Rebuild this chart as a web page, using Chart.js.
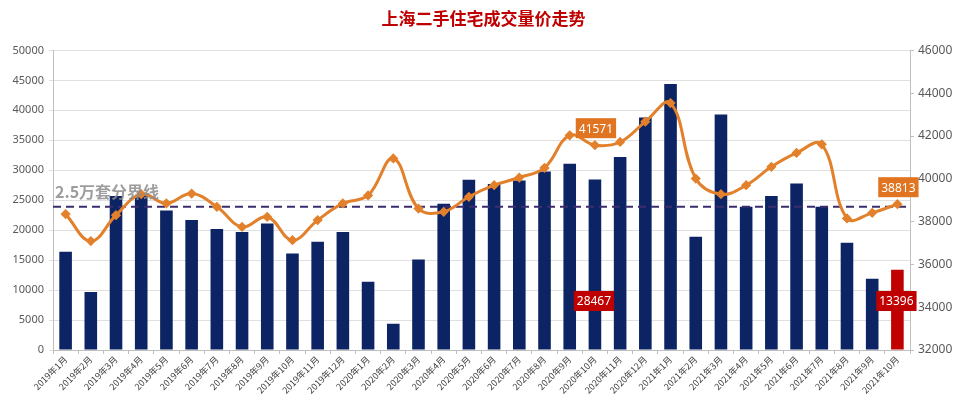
<!DOCTYPE html>
<html>
<head>
<meta charset="utf-8">
<script src="https://cdn.jsdelivr.net/npm/chart.js@4/dist/chart.umd.min.js"></script>
<style>
  html, body { margin: 0; padding: 0; background: #fff; }
  .chart { width: 967px; height: 407px; }
</style>
</head>
<body>
<div class="chart"><canvas id="chart"></canvas></div>
<script>
// 月份
const months = [
  '2019年1月', '2019年2月', '2019年3月', '2019年4月', '2019年5月', '2019年6月',
  '2019年7月', '2019年8月', '2019年9月', '2019年10月', '2019年11月', '2019年12月',
  '2020年1月', '2020年2月', '2020年3月', '2020年4月', '2020年5月', '2020年6月',
  '2020年7月', '2020年8月', '2020年9月', '2020年10月', '2020年11月', '2020年12月',
  '2021年1月', '2021年2月', '2021年3月', '2021年4月', '2021年5月', '2021年6月',
  '2021年7月', '2021年8月', '2021年9月', '2021年10月'
]

// 成交量 (套)
const volumes = [
  16400, 9700, 25700, 25900, 23300, 21700, 20200, 19700, 21100, 16100, 18050, 19700,
  11400, 4400, 15100, 24400, 28400, 27700, 28300, 29800, 31100, 28467, 32200, 38800,
  44400, 18900, 39300, 23900, 25700, 27800, 23900, 17900, 11900, 13396
]

// 成交均价 (元/平)
const prices = [
  38350, 37090, 38300, 39280, 38850, 39310, 38690, 37750, 38220, 37130, 38070, 38850,
  39220, 40950, 38610, 38460, 39160, 39700, 40060, 40510, 42030, 41571, 41720, 42670,
  43540, 40010, 39280, 39700, 40560, 41210, 41610, 38150, 38410, 38813
]

const volumeTicks = { min: 0, max: 50000, step: 5000 }
const priceTicks = { min: 32000, max: 46000, step: 2000 }

const threshold = 23900
const thresholdText = '2.5万套分界线'
const labelled = [21, 33]

const navy = '#0c2463'
const red = '#c00000'
const orange = '#e2802c'

const barColors = volumes.map((v, i) => (i === volumes.length - 1 ? red : navy))

const thresholdLine = {
  id: 'thresholdLine',
  beforeDatasetDraw(chart, args) {
    if (args.index !== 1) return
    const { ctx, chartArea } = chart
    const y = chart.scales.y.getPixelForValue(threshold)
    ctx.save()
    ctx.strokeStyle = '#3b2c6e'
    ctx.lineWidth = 2
    ctx.setLineDash([8, 5])
    ctx.beginPath()
    ctx.moveTo(chartArea.left, y)
    ctx.lineTo(chartArea.right, y)
    ctx.stroke()
    ctx.restore()
  },
  afterDatasetsDraw(chart) {
    const { ctx, chartArea } = chart
    const y = chart.scales.y.getPixelForValue(threshold)
    ctx.save()
    ctx.font = 'bold 16px "Noto Sans CJK SC"'
    ctx.fillStyle = 'rgba(140,140,140,0.85)'
    ctx.textBaseline = 'alphabetic'
    ctx.fillText(thresholdText, chartArea.left + 2, y - 9)
    ctx.restore()
  }
}

function drawBox(ctx, text, cx, cy, bg) {
  ctx.font = '12px "Noto Sans"'
  const w = ctx.measureText(text).width + 6
  const h = 20
  ctx.fillStyle = bg
  ctx.fillRect(cx - w / 2, cy - h / 2, w, h)
  ctx.fillStyle = '#fff'
  ctx.textAlign = 'center'
  ctx.textBaseline = 'middle'
  ctx.fillText(text, cx, cy + 1)
}

const boxLabels = {
  id: 'boxLabels',
  afterDatasetsDraw(chart) {
    const { ctx } = chart
    const bars = chart.getDatasetMeta(0).data
    const points = chart.getDatasetMeta(1).data
    ctx.save()
    labelled.forEach((i) => {
      drawBox(ctx, String(prices[i]), points[i].x + 1, points[i].y - 17, '#e07421')
      drawBox(ctx, String(volumes[i]), bars[i].x - 1, chart.scales.x.top - 49, red)
    })
    ctx.restore()
  }
}

new Chart(document.getElementById('chart'), {
  data: {
    labels: months,
    datasets: [
      {
        type: 'bar',
        label: '成交量',
        data: volumes,
        backgroundColor: barColors,
        barPercentage: 0.5,
        categoryPercentage: 1,
        yAxisID: 'y',
        order: 2
      },
      {
        type: 'line',
        label: '成交均价',
        data: prices,
        borderColor: orange,
        borderWidth: 3,
        tension: 0.4,
        pointStyle: 'rectRot',
        pointRadius: 3,
        pointBackgroundColor: orange,
        pointBorderColor: orange,
        yAxisID: 'y1',
        order: 1
      }
    ]
  },
  options: {
    responsive: true,
    maintainAspectRatio: false,
    animation: false,
    layout: { padding: 0 },
    plugins: {
      legend: { display: false },
      tooltip: { enabled: false },
      title: {
        display: true,
        text: '上海二手住宅成交量价走势',
        color: '#c00000',
        font: { family: '"Noto Sans CJK SC"', size: 17, weight: 'bold' },
        padding: { top: 8, bottom: 22 }
      }
    },
    scales: {
      x: {
        grid: { display: true, offset: true, drawOnChartArea: false, drawTicks: true, tickLength: 4, color: '#bfbfbf' },
        border: { color: '#bfbfbf' },
        ticks: {
          autoSkip: false,
          maxRotation: 45,
          minRotation: 45,
          padding: 0,
          color: '#404040',
          font: { family: '"Noto Sans CJK SC"', size: 9 }
        },
        afterFit(scale) { scale.height = 57 }
      },
      y: {
        position: 'left',
        min: volumeTicks.min,
        max: volumeTicks.max,
        ticks: {
          stepSize: volumeTicks.step,
          color: '#595959',
          padding: 5,
          font: { family: '"Noto Sans"', size: 11 },
          callback: (v) => String(v)
        },
        grid: { color: '#e0e0e0', tickLength: 4 },
        border: { color: '#bfbfbf' },
        afterFit(scale) { scale.width = 53 }
      },
      y1: {
        position: 'right',
        min: priceTicks.min,
        max: priceTicks.max,
        ticks: {
          stepSize: priceTicks.step,
          color: '#595959',
          padding: 4,
          font: { family: '"Noto Sans"', size: 12 },
          callback: (v) => String(v)
        },
        grid: { drawOnChartArea: false, color: '#bfbfbf', tickLength: 4 },
        border: { color: '#bfbfbf' },
        afterFit(scale) { scale.width = 57 }
      }
    }
  },
  plugins: [thresholdLine, boxLabels]
})
</script>
</body>
</html>
